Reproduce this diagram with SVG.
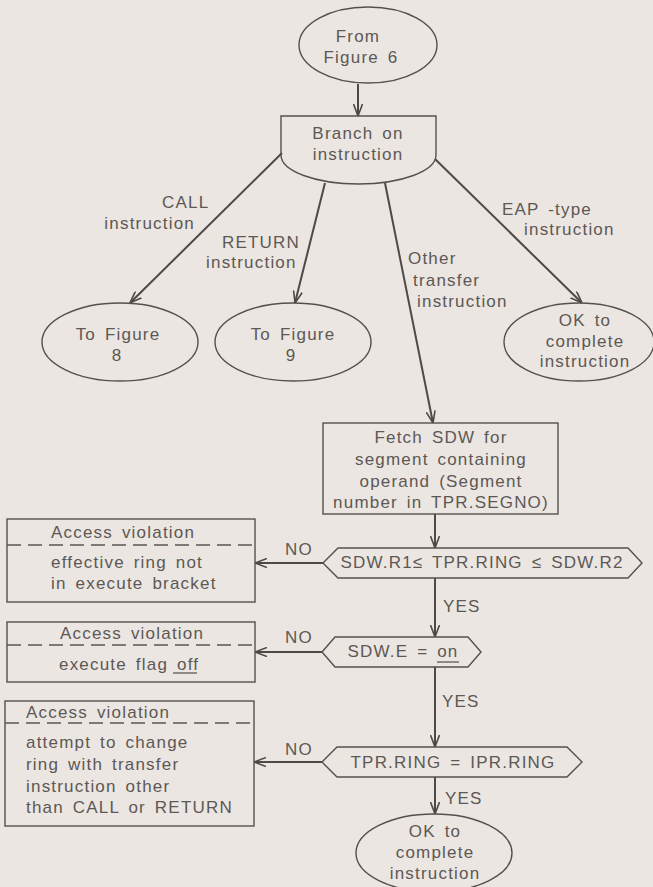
<svg xmlns="http://www.w3.org/2000/svg" width="653" height="887" viewBox="0 0 653 887">
  <style>
    .bg { fill: #ebe6e1; }
    .node { fill: none; stroke: #55504c; stroke-width: 1.4; }
    .dash { fill: none; stroke: #5a5551; stroke-width: 1.3; stroke-dasharray: 14 7; }
    .edge { fill: none; stroke: #4e4946; stroke-width: 2; marker-end: url(#arrow); }
    .ul { stroke: #5d5855; stroke-width: 1.3; }
    text { font-family: "Liberation Sans", Arial, sans-serif; font-size: 17px; fill: #5d5855; letter-spacing: 1.2px; word-spacing: 3px; }
    .c { text-anchor: middle; }
    .e { text-anchor: end; }
  </style>
  <defs>
    <marker id="arrow" viewBox="0 0 12 10" refX="12" refY="5" markerWidth="12" markerHeight="10" markerUnits="userSpaceOnUse" orient="auto">
      <path d="M0,0.5 L12,5 L0,9.5" fill="none" stroke="#4e4946" stroke-width="1.6"/>
    </marker>
  </defs>

  <rect class="bg" x="0" y="0" width="653" height="887"/>

  <!-- connectors -->
  <g id="connectors">
    <line class="edge" x1="358" y1="84" x2="358" y2="116"/>
    <line class="edge" x1="282" y1="153" x2="130" y2="303"/>
    <line class="edge" x1="325" y1="183" x2="295" y2="303"/>
    <line class="edge" x1="385" y1="183" x2="433" y2="423"/>
    <line class="edge" x1="435" y1="159" x2="582" y2="303"/>
    <line class="edge" x1="435" y1="514" x2="435" y2="548"/>
    <line class="edge" x1="435" y1="578" x2="435" y2="637"/>
    <line class="edge" x1="435" y1="667" x2="435" y2="747"/>
    <line class="edge" x1="435" y1="777" x2="435" y2="814"/>
    <line class="edge" x1="323" y1="563" x2="255" y2="563"/>
    <line class="edge" x1="322" y1="652" x2="255" y2="652"/>
    <line class="edge" x1="322" y1="762" x2="254" y2="762"/>
    <!-- connector labels -->
    <text x="162" y="208">CALL</text>
    <text class="e" x="195" y="229">instruction</text>
    <text x="222" y="248">RETURN</text>
    <text x="206" y="268">instruction</text>
    <text x="408" y="264">Other</text>
    <text x="413" y="286">transfer</text>
    <text x="417" y="307">instruction</text>
    <text x="502" y="215">EAP -type</text>
    <text x="524" y="235">instruction</text>
    <text x="443" y="612">YES</text>
    <text x="442" y="707">YES</text>
    <text x="445" y="804">YES</text>
    <text x="285" y="555">NO</text>
    <text x="285" y="643">NO</text>
    <text x="285" y="755">NO</text>
  </g>

  <!-- nodes -->
  <g id="from-fig6">
    <ellipse class="node" cx="368" cy="45" rx="69" ry="38"/>
    <text class="c" x="358" y="42">From</text>
    <text class="c" x="361" y="63">Figure 6</text>
  </g>

  <g id="branch">
    <path class="node" d="M281,116 H436 V155 A77.5,29 0 0 1 281,155 Z"/>
    <text class="c" x="358" y="139">Branch on</text>
    <text class="c" x="358" y="160">instruction</text>
  </g>

  <g id="to-fig8">
    <ellipse class="node" cx="120" cy="342" rx="78" ry="39"/>
    <text class="c" x="118" y="340">To Figure</text>
    <text class="c" x="117" y="361">8</text>
  </g>

  <g id="to-fig9">
    <ellipse class="node" cx="293" cy="342" rx="78" ry="39"/>
    <text class="c" x="293" y="340">To Figure</text>
    <text class="c" x="291" y="361">9</text>
  </g>

  <g id="ok-eap">
    <ellipse class="node" cx="579" cy="342" rx="75" ry="39"/>
    <text class="c" x="585" y="326">OK to</text>
    <text class="c" x="585" y="347">complete</text>
    <text class="c" x="585" y="367">instruction</text>
  </g>

  <g id="fetch-sdw">
    <rect class="node" x="323" y="423" width="235" height="91"/>
    <text class="c" x="441" y="443">Fetch SDW for</text>
    <text class="c" x="441" y="465">segment containing</text>
    <text class="c" x="441" y="487">operand (Segment</text>
    <text class="c" x="441" y="508">number in TPR.SEGNO)</text>
  </g>

  <g id="check-bracket">
    <polygon class="node" points="323,563 338,548 628,548 642,563 628,578 338,578"/>
    <text class="c" x="482" y="568">SDW.R1≤ TPR.RING ≤ SDW.R2</text>
  </g>

  <g id="check-execute">
    <polygon class="node" points="322,652 335,637 468,637 481,652 468,667 335,667"/>
    <text class="c" x="403" y="657">SDW.E = on</text>
    <line class="ul" x1="437" y1="662" x2="459" y2="662"/>
  </g>

  <g id="check-ring">
    <polygon class="node" points="322,762 337,747 567,747 582,762 567,777 337,777"/>
    <text class="c" x="453" y="768">TPR.RING = IPR.RING</text>
  </g>

  <g id="ok-final">
    <ellipse class="node" cx="434" cy="853" rx="78" ry="39"/>
    <text class="c" x="435" y="837">OK to</text>
    <text class="c" x="435" y="858">complete</text>
    <text class="c" x="435" y="879">instruction</text>
  </g>

  <g id="violation-bracket">
    <rect class="node" x="7" y="519" width="248" height="83"/>
    <line class="dash" x1="7" y1="545" x2="255" y2="545"/>
    <text x="51" y="538">Access violation</text>
    <text x="51" y="568">effective ring not</text>
    <text x="51" y="589">in execute bracket</text>
  </g>

  <g id="violation-flag">
    <rect class="node" x="7" y="622" width="248" height="60"/>
    <line class="dash" x1="7" y1="645" x2="255" y2="645"/>
    <text x="60" y="639">Access violation</text>
    <text x="59" y="670">execute flag off</text>
    <line class="ul" x1="173" y1="673" x2="197" y2="673"/>
  </g>

  <g id="violation-ring">
    <rect class="node" x="5" y="701" width="249" height="125"/>
    <line class="dash" x1="5" y1="723" x2="254" y2="723"/>
    <text x="26" y="718">Access violation</text>
    <text x="26" y="748">attempt to change</text>
    <text x="26" y="770">ring with transfer</text>
    <text x="26" y="792">instruction other</text>
    <text x="26" y="813">than CALL or RETURN</text>
  </g>
</svg>
